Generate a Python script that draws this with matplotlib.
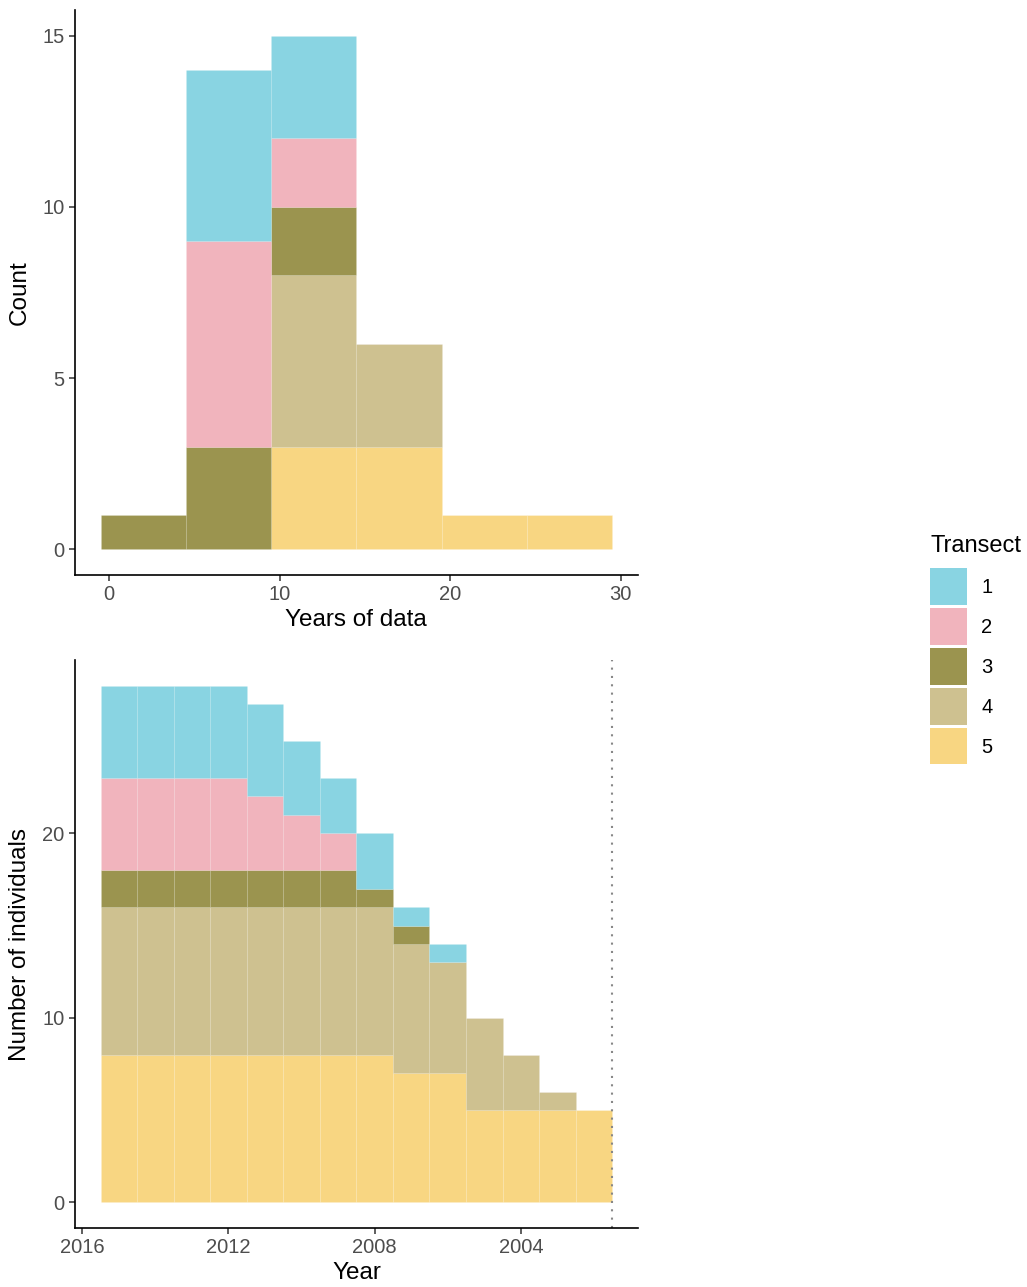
import numpy as np
import matplotlib.pyplot as plt
from matplotlib.patches import Patch

plt.rcParams['font.family'] = ['Liberation Sans', 'DejaVu Sans']

transects = ['1', '2', '3', '4', '5']
colors = ['#89D4E2', '#F1B4BD', '#9B944F', '#CEC190', '#F8D682']

# histogram of years of data, bins of width 5
bin_edges = np.array([-0.5, 4.5, 9.5, 14.5, 19.5, 24.5, 29.5])
years_counts = {
    '1': [0, 5, 3, 0, 0, 0],
    '2': [0, 6, 2, 0, 0, 0],
    '3': [1, 3, 2, 0, 0, 0],
    '4': [0, 0, 5, 3, 0, 0],
    '5': [0, 0, 3, 3, 1, 1],
}

# individuals present per calendar year
years = np.arange(2015, 2001, -1)
indiv_counts = {
    '1': [5, 5, 5, 5, 5, 4, 3, 3, 1, 1, 0, 0, 0, 0],
    '2': [5, 5, 5, 5, 4, 3, 2, 0, 0, 0, 0, 0, 0, 0],
    '3': [2, 2, 2, 2, 2, 2, 2, 1, 1, 0, 0, 0, 0, 0],
    '4': [8, 8, 8, 8, 8, 8, 8, 8, 7, 6, 5, 3, 1, 0],
    '5': [8, 8, 8, 8, 8, 8, 8, 8, 7, 7, 5, 5, 5, 5],
}
cutoff_year = 2001.5

tick_col = '#4D4D4D'


def style_axes(ax):
    for s in ['top', 'right']:
        ax.spines[s].set_visible(False)
    for s in ['left', 'bottom']:
        ax.spines[s].set_linewidth(1.2)
        ax.spines[s].set_color('black')
    ax.tick_params(axis='both', labelsize=14.5, labelcolor=tick_col,
                   color='#333333', length=4, width=1.1)


def stacked(ax, lefts, widths, counts):
    bottom = np.zeros(len(lefts))
    for t, c in zip(transects[::-1], colors[::-1]):
        h = np.array(counts[t], dtype=float)
        ax.bar(lefts, h, width=widths, bottom=bottom, align='edge',
               color=c, edgecolor=(1, 1, 1, 0.08), linewidth=0.6)
        bottom += h


fig = plt.figure(figsize=(10.27, 12.87), dpi=100)
ax1 = fig.add_axes([0.073, 0.5532, 0.548, 0.439])
ax2 = fig.add_axes([0.073, 0.0458, 0.548, 0.4414])

# top: years of data
stacked(ax1, bin_edges[:-1], np.diff(bin_edges), years_counts)
ax1.set_xlim(-2, 31)
ax1.set_ylim(-0.75, 15.75)
ax1.set_xticks([0, 10, 20, 30])
ax1.set_yticks([0, 5, 10, 15])
ax1.set_xlabel('Years of data', fontsize=17.5, labelpad=3)
ax1.set_ylabel('Count', fontsize=17.5, labelpad=8)
style_axes(ax1)

# bottom: individuals per year (reversed axis)
stacked(ax2, years - 0.5, 1.0, indiv_counts)
ax2.axvline(cutoff_year, color='#888888', linestyle=(0, (1, 3)), linewidth=1.5)
ax2.set_xlim(2016.2, 2000.8)
ax2.set_ylim(-1.4, 29.4)
ax2.set_xticks([2016, 2012, 2008, 2004])
ax2.set_yticks([0, 10, 20])
ax2.set_xlabel('Year', fontsize=17.5, labelpad=3)
ax2.set_ylabel('Number of individuals', fontsize=17.5, labelpad=8)
style_axes(ax2)

handles = [Patch(facecolor=c, edgecolor='none') for c in colors]
leg = fig.legend(handles, transects, title='Transect', loc='upper left',
                 bbox_to_anchor=(0.888, 1 - 517 / 1287), frameon=False,
                 fontsize=14.5, title_fontsize=17, handlelength=1.85,
                 handleheight=2.4, labelspacing=0.18, handletextpad=0.7)
leg._legend_box.align = 'left'
leg._legend_box.sep = 8

fig.savefig('out.png', dpi=100)
